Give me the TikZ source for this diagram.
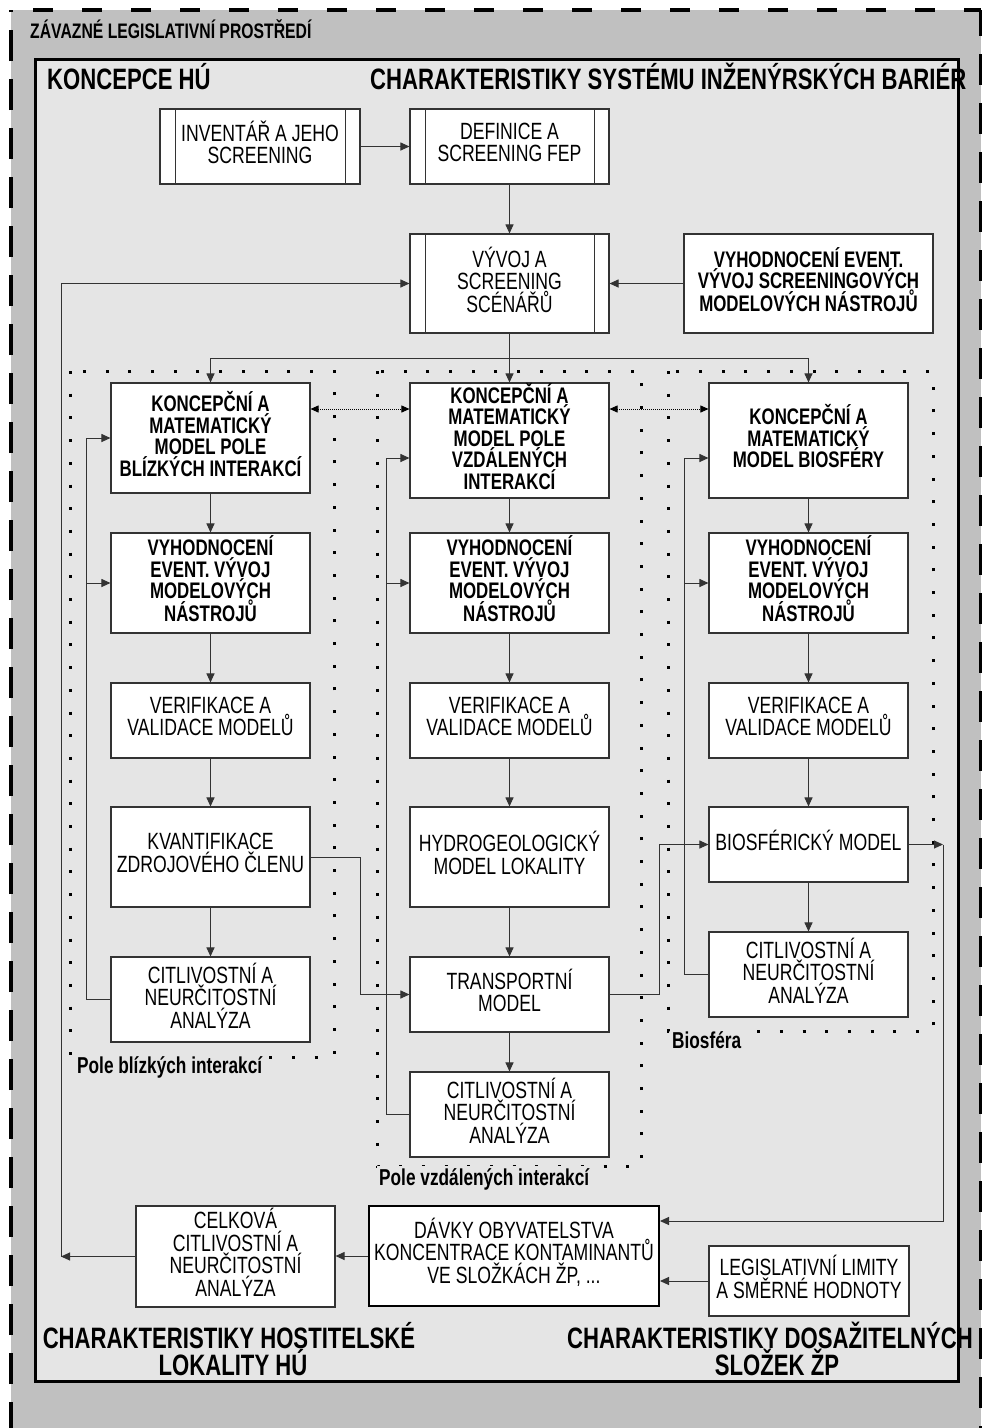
\documentclass[tikz,border=0pt]{standalone}
\usepackage{fontspec}
\setmainfont{Liberation Sans}[FakeStretch=0.75]
\usetikzlibrary{arrows.meta,calc}
\definecolor{outerg}{HTML}{C0C0C0}
\definecolor{innerg}{HTML}{E5E5E5}
\definecolor{lineg}{HTML}{333333}
\begin{document}
\begin{tikzpicture}[x=1pt,y=-1pt,
 box/.style={draw=lineg, line width=1.1pt, fill=white, inner sep=0pt, minimum width=199pt},
 bt/.style={align=center, inner sep=0pt, yshift=4pt, font=\fontsize{23.5}{22.5}\selectfont},
 bbt/.style={align=center, inner sep=0pt, yshift=4pt, font=\bfseries\fontsize{22.5}{21.5}\selectfont},
 arr/.style={draw=lineg, line width=1pt, -{Triangle[length=9pt,width=8pt]}},
 ln/.style={draw=lineg, line width=1pt},
 darr/.style={draw=black, line width=0.8pt, dash pattern=on 1pt off 1pt, {Triangle[length=8pt,width=7pt]}-{Triangle[length=8pt,width=7pt]}},
 region/.style={draw=black, line width=3pt, dash pattern=on 3pt off 19.7pt},
 hdr/.style={font=\bfseries\fontsize{29.5}{27}\selectfont, inner sep=0pt, anchor=base},
 lab/.style={font=\bfseries\fontsize{23}{23}\selectfont, fill=innerg, inner sep=2pt, anchor=base west},
 frameline/.style={draw=black, line width=3.5pt},
]
\useasboundingbox (0,0) rectangle (982,1428);
% outer legislative frame
\fill[outerg] (11,10) rectangle (981,1428);
\draw[frameline, dash pattern=on 31pt off 18pt, dash phase=5pt] (11,1428) -- (11,10);
\draw[frameline, dash pattern=on 20pt off 29pt, dash phase=27pt] (11,10) -- (981,10);
\draw[frameline, dash pattern=on 31pt off 18pt, dash phase=5pt] (981,10) -- (981,1428);
% inner frame
\draw[line width=3pt, fill=innerg] (35,59) rectangle (958,1381);
% dotted regions
\draw[region] (70,371) rectangle (334,1057);
\draw[region] (377,371) rectangle (641,1166);
\draw[region] (668,371) rectangle (933,1031);
% headers
\node[font=\bfseries\fontsize{21}{21}\selectfont, inner sep=0pt, anchor=base west] (h0) at (30,38) {ZÁVAZNÉ LEGISLATIVNÍ PROSTŘEDÍ};
\node[hdr, anchor=base west] (h1) at (47,89) {KONCEPCE HÚ};
\node[hdr, anchor=base west] (h2) at (370,89) {CHARAKTERISTIKY SYSTÉMU INŽENÝRSKÝCH BARIÉR};
\node[hdr] (h3a) at (229,1348) {CHARAKTERISTIKY HOSTITELSKÉ};
\node[hdr] (h3b) at (233,1375) {LOKALITY HÚ};
\node[hdr] (h4a) at (770,1348) {CHARAKTERISTIKY DOSAŽITELNÝCH};
\node[hdr] (h4b) at (777,1375) {SLOŽEK ŽP};
% top boxes
\node[box, minimum width=200pt, minimum height=75pt] (inv) at (260,146.5) {};
\node[box, minimum height=75pt] (def) at (509.5,146.5) {};
\node[box, minimum height=99pt] (vyv) at (509.5,283.5) {};
\foreach \b in {inv,def,vyv}{
  \draw[ln] ([xshift=16pt]\b.north west) -- ([xshift=16pt]\b.south west);
  \draw[ln] ([xshift=-15pt]\b.north east) -- ([xshift=-15pt]\b.south east);
}
\node[bt] (inv-t) at (inv) {INVENTÁŘ A JEHO\\SCREENING};
\node[bt] (def-t) at (def) {DEFINICE A\\SCREENING FEP};
\node[bt] (vyv-t) at (vyv) {VÝVOJ A\\SCREENING\\SCÉNÁŘŮ};
\node[box, minimum width=249pt, minimum height=99pt] (vyhs) at (808.5,283.5) {};
\node[bbt] (vyhs-t) at (vyhs) {VYHODNOCENÍ EVENT.\\VÝVOJ SCREENINGOVÝCH\\MODELOVÝCH NÁSTROJŮ};
% column boxes
\node[box, minimum height=110pt] (k1) at (210.5,438) {};
\node[box, minimum height=115pt] (k2) at (509.5,440.5) {};
\node[box, minimum height=115pt] (k3) at (808.5,440.5) {};
\node[bbt] (k1-t) at (k1) {KONCEPČNÍ A\\MATEMATICKÝ\\MODEL POLE\\BLÍZKÝCH INTERAKCÍ};
\node[bbt] (k2-t) at (k2) {KONCEPČNÍ A\\MATEMATICKÝ\\MODEL POLE\\VZDÁLENÝCH\\INTERAKCÍ};
\node[bbt] (k3-t) at (k3) {KONCEPČNÍ A\\MATEMATICKÝ\\MODEL BIOSFÉRY};
\foreach \i/\x in {1/210.5,2/509.5,3/808.5}{
  \node[box, minimum height=100pt] (v\i) at (\x,583) {};
  \node[bbt] (v\i-t) at (v\i) {VYHODNOCENÍ\\EVENT. VÝVOJ\\MODELOVÝCH\\NÁSTROJŮ};
  \node[box, minimum height=75pt] (ver\i) at (\x,720.5) {};
  \node[bt] (ver\i-t) at (ver\i) {VERIFIKACE A\\VALIDACE MODELŮ};
}
\node[box, minimum height=100pt] (kv) at (210.5,857) {};
\node[bt] (kv-t) at (kv) {KVANTIFIKACE\\ZDROJOVÉHO ČLENU};
\node[box, minimum height=85pt] (cit1) at (210.5,999.5) {};
\node[bt] (cit1-t) at (cit1) {CITLIVOSTNÍ A\\NEURČITOSTNÍ\\ANALÝZA};
\node[box, minimum height=100pt] (hyd) at (509.5,857) {};
\node[bt] (hyd-t) at (hyd) {HYDROGEOLOGICKÝ\\MODEL LOKALITY};
\node[box, minimum height=75pt] (tr) at (509.5,994.5) {};
\node[bt] (tr-t) at (tr) {TRANSPORTNÍ\\MODEL};
\node[box, minimum height=85pt] (cit2) at (509.5,1114.5) {};
\node[bt] (cit2-t) at (cit2) {CITLIVOSTNÍ A\\NEURČITOSTNÍ\\ANALÝZA};
\node[box, minimum height=75pt] (bio) at (808.5,844.5) {};
\node[bt] (bio-t) at (bio) {BIOSFÉRICKÝ MODEL};
\node[box, minimum height=85pt] (cit3) at (808.5,974.5) {};
\node[bt] (cit3-t) at (cit3) {CITLIVOSTNÍ A\\NEURČITOSTNÍ\\ANALÝZA};
% bottom boxes
\node[box, draw=black, line width=2pt, minimum width=290pt, minimum height=100pt] (davky) at (514,1256) {};
\node[bt] (davky-t) at (davky) {DÁVKY OBYVATELSTVA\\KONCENTRACE KONTAMINANTŮ\\VE SLOŽKÁCH ŽP, ...};
\node[box, minimum width=200pt, minimum height=70pt] (leg) at (809,1281) {};
\node[bt] (leg-t) at (leg) {LEGISLATIVNÍ LIMITY\\A SMĚRNÉ HODNOTY};
\node[box, minimum height=101pt] (celk) at (235.5,1256.5) {};
\node[bt] (celk-t) at (celk) {CELKOVÁ\\CITLIVOSTNÍ A\\NEURČITOSTNÍ\\ANALÝZA};
% region labels
\node[lab] (r1) at (75,1073) {Pole blízkých interakcí};
\node[lab] (r2) at (377,1185) {Pole vzdálených interakcí};
\node[lab] (r3) at (670,1048) {Biosféra};
% helper coordinates
\coordinate (y409) at (0,409);
\coordinate (y458) at (0,458);
\coordinate (y1221) at (0,1221);
\coordinate (sp) at (509.5,358);
\coordinate (f1) at (86,999.5);
\coordinate (f2) at (386,1114.5);
\coordinate (f3) at (684,974.5);
\coordinate (bd) at (943,844.5);
\coordinate (fb) at (61,1256.5);
% connectors
\draw[arr] (inv.east) -- (def.west);
\draw[arr] (def.south) -- (vyv.north);
\draw[arr] (vyhs.west) -- (vyv.east);
\draw[arr] (vyv.south) -- (k2.north);
\draw[arr] (sp) -| (k1.north);
\draw[arr] (sp) -| (k3.north);
\draw[darr] (k1.east |- y409) -- (k2.west |- y409);
\draw[darr] (k2.east |- y409) -- (k3.west |- y409);
\draw[arr] (k1.south) -- (v1.north);
\draw[arr] (v1.south) -- (ver1.north);
\draw[arr] (ver1.south) -- (kv.north);
\draw[arr] (kv.south) -- (cit1.north);
\draw[arr] (k2.south) -- (v2.north);
\draw[arr] (v2.south) -- (ver2.north);
\draw[arr] (ver2.south) -- (hyd.north);
\draw[arr] (hyd.south) -- (tr.north);
\draw[arr] (tr.south) -- (cit2.north);
\draw[arr] (k3.south) -- (v3.north);
\draw[arr] (v3.south) -- (ver3.north);
\draw[arr] (ver3.south) -- (bio.north);
\draw[arr] (bio.south) -- (cit3.north);
\draw[ln] (cit1.west) -- (f1);
\draw[arr] (f1) |- (k1.west);
\draw[arr] (f1) |- (v1.west);
\draw[ln] (cit2.west) -- (f2);
\draw[arr] (f2) |- (k2.west |- y458);
\draw[arr] (f2) |- (v2.west);
\draw[ln] (cit3.west) -- (f3);
\draw[arr] (f3) |- (k3.west |- y458);
\draw[arr] (f3) |- (v3.west);
\draw[arr] (kv.east) -- ++(50,0) |- (tr.west);
\draw[arr] (tr.east) -- ++(50,0) |- (bio.west);
\draw[arr] (bio.east) -- (bd);
\draw[arr] (bd) |- (davky.east |- y1221);
\draw[arr] (leg.west) -- (davky.east |- leg.west);
\draw[arr] (davky.west) -- (celk.east |- davky.west);
\draw[arr] (celk.west) -- (fb);
\draw[arr] (fb) |- (vyv.west);
\end{tikzpicture}
\end{document}
